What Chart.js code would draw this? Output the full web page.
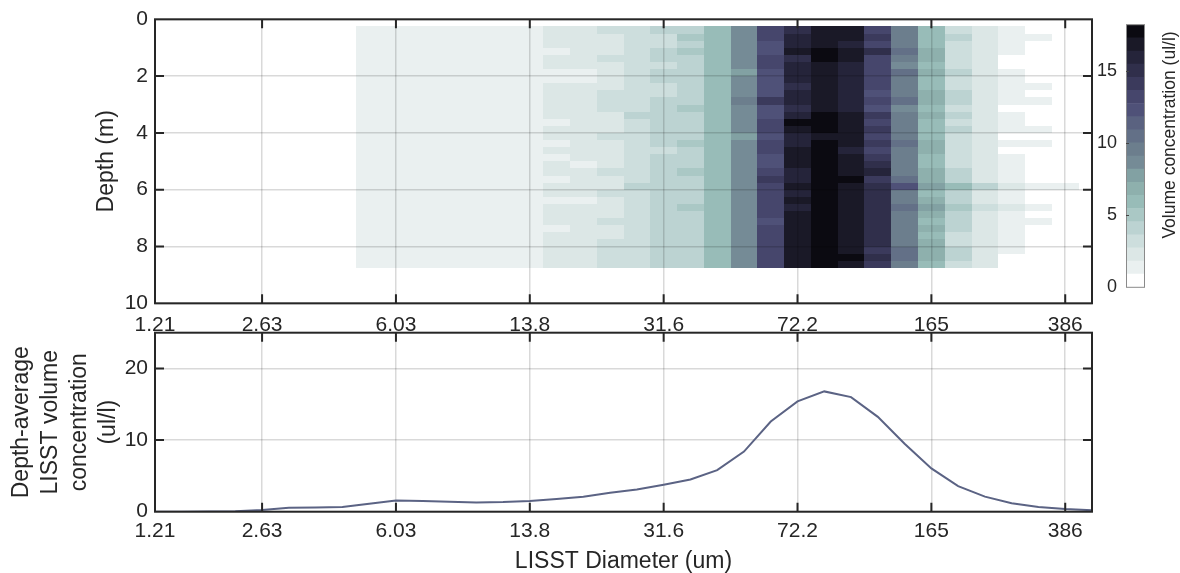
<!DOCTYPE html>
<html><head><meta charset="utf-8">
<script src="https://cdn.jsdelivr.net/npm/chart.js@4.4.1/dist/chart.umd.min.js"></script>
<style>
html,body{margin:0;padding:0;background:#fff;}
#wrap{position:relative;width:1180px;height:573px;overflow:hidden;background:#fff;}
canvas{position:absolute;}
</style></head><body>
<div id="wrap">
<canvas id="cTop" width="1100" height="345" style="left:0;top:0;width:1100px;height:345px"></canvas>
<canvas id="cBot" width="1100" height="253" style="left:0;top:320px;width:1100px;height:253px"></canvas>
<canvas id="cBar" width="88" height="310" style="left:1092px;top:0;width:88px;height:310px"></canvas>
</div>
<script>
// ---------------- data ----------------
const binIndex = [1,2,3,4,5,6,7,8,9,10,11,12,13,14,15,16,17,18,19,20,21,22,23,24,25,26,27,28,29,30,31,32,33,34,35,36];
const depthAvgConc = [0,0,0.02,0.05,0.24,0.56,0.6,0.65,1.1,1.58,1.49,1.4,1.3,1.35,1.49,1.77,2.1,2.65,3.1,3.77,4.5,5.8,8.4,12.6,15.4,16.8,16.0,13.25,9.5,6.05,3.58,2.1,1.17,0.65,0.37,0.2];
const xTickPos = [1,5,10,15,20,25,30,35];
const xTickLabels = ['1.21','2.63','6.03','13.8','31.6','72.2','165','386'];
const depthTicks = [0,2,4,6,8,10];
const avgTicks = [0,10,20];
const cbTicks = [0,5,10,15];
const cbEdges = [0,0.91,1.82,2.73,3.64,4.55,5.46,6.37,7.28,8.19,9.1,10.01,10.92,11.83,12.74,13.65,14.56,15.47,16.38,17.29,18.2];
const cbColors = ['#ffffff','#eaf0f0','#dce7e6','#cddedd','#bcd3d2','#aac8c5','#98bcb8','#8eb0ad','#82a1a3','#758b96','#6c7e8d','#637087','#5a6280','#4f5178','#46466c','#3b3a5c','#302f4b','#25243a','#1a1927','#0b0a11'];
const heatBins = [9,10,11,12,13,14,15,16,17,18,19,20,21,22,23,24,25,26,27,28,29,30,31,32,33,34,35];
const depthEdges = [0.25,0.5,0.75,1,1.25,1.5,1.75,2,2.25,2.5,2.75,3,3.25,3.5,3.75,4,4.25,4.5,4.75,5,5.25,5.5,5.75,6,6.25,6.5,6.75,7,7.25,7.5,7.75,8,8.25,8.5,8.75];
const heatRows = [
[1.3,1.3,1.3,1.3,1.3,1.3,1.3, 2.0,2.2,3.0,3.2,3.9,4.4,5.9,8.5,12.9,15.2,16.9,16.4,13.4, 9.4,6.0,3.5, 2.3,1.2,0.4,0.2],
[1.3,1.3,1.3,1.3,1.3,1.3,1.3, 2.1,2.3,2.6,3.1,3.5,4.9,5.9,8.6,13.4,16.0,17.1,16.8,14.2, 9.8,6.2,4.0, 2.4,1.3,1.2,0.2],
[1.3,1.3,1.3,1.3,1.3,1.3,1.3, 2.0,2.4,2.5,3.0,3.4,4.3,5.8,8.4,12.6,15.8,17.2,16.0,13.0, 9.6,5.8,3.4, 2.2,1.4,0.5,0.1],
[1.3,1.3,1.3,1.3,1.3,1.3,1.3, 1.6,2.2,2.5,3.1,4.0,4.9,5.8,8.3,12.2,16.4,17.9,16.5,14.6, 10.3,6.4,3.5, 2.1,1.2,0.4,0.1],
[1.3,1.3,1.3,1.3,1.3,1.3,1.3, 1.9,2.1,3.0,3.2,3.9,4.3,5.9,8.6,13.0,15.1,17.5,16.9,13.3, 9.5,6.6,3.3, 2.0,0.6,0.3,0.1],
[1.3,1.3,1.3,1.3,1.3,1.3,1.3, 1.9,2.0,2.6,3.3,3.4,4.4,5.8,8.7,13.5,15.7,16.9,16.1,12.8, 9.0,6.0,3.6, 1.9,0.6,0.2,0.1],
[1.3,1.3,1.3,1.3,1.3,1.3,1.3, 1.6,1.7,2.6,3.2,3.9,4.3,5.9,7.9,12.7,16.1,17.0,16.3,13.2, 10.5,7.0,3.9, 2.0,1.3,0.3,0.1],
[1.3,1.3,1.3,1.3,1.3,1.3,1.3, 1.6,1.7,2.5,3.1,3.9,4.4,5.8,8.3,12.6,15.5,17.0,15.8,13.6, 9.8,6.3,3.4, 2.6,1.3,0.2,0.1],
[1.3,1.3,1.3,1.3,1.3,1.3,1.3, 1.9,2.2,2.5,2.9,3.4,4.3,5.8,8.3,12.4,15.2,16.8,15.8,13.2, 9.4,6.1,3.2, 2.3,1.4,1.2,0.2],
[1.3,1.3,1.3,1.3,1.3,1.3,1.3, 2.0,2.2,3.0,3.1,3.4,4.4,5.9,8.6,12.7,15.5,17.0,16.0,12.6, 9.6,6.4,3.8, 2.1,1.3,0.4,0.1],
[1.3,1.3,1.3,1.3,1.3,1.3,1.3, 2.1,2.3,3.0,3.2,3.9,4.3,5.8,9.3,14.0,16.2,17.1,16.1,13.3, 10.4,6.9,3.9, 2.5,1.3,1.1,0.2],
[1.3,1.3,1.3,1.3,1.3,1.3,1.3, 1.9,2.2,2.9,3.1,3.9,4.8,5.9,8.3,12.5,15.0,16.9,16.0,12.6, 9.0,6.0,3.3, 2.0,0.6,0.3,0.1],
[1.3,1.3,1.3,1.3,1.3,1.3,1.3, 2.0,2.2,2.6,3.9,4.0,4.4,5.9,8.4,12.4,16.1,17.6,16.6,14.4, 9.7,6.5,3.7, 2.1,1.3,0.4,0.1],
[1.3,1.3,1.3,1.3,1.3,1.3,1.3, 1.6,2.2,2.5,3.2,4.1,4.3,5.9,8.7,13.2,17.3,18.0,16.7,13.1, 9.5,6.2,3.2, 2.2,1.4,0.4,0.1],
[1.3,1.3,1.3,1.3,1.3,1.3,1.3, 1.9,2.3,2.5,3.2,3.9,4.4,5.8,8.4,13.0,16.4,17.3,17.2,14.0, 9.6,6.3,3.9, 2.0,1.3,1.2,0.2],
[1.3,1.3,1.3,1.3,1.3,1.3,1.3, 2.0,2.1,3.0,3.1,3.9,4.4,5.9,8.1,12.4,15.6,17.0,16.6,13.2, 9.3,6.1,3.4, 1.9,0.6,0.3,0.1],
[1.3,1.3,1.3,1.3,1.3,1.3,1.3, 1.6,2.1,2.5,3.1,4.0,4.9,5.8,8.6,12.9,16.0,17.6,16.7,14.0, 10.4,6.4,3.5, 2.4,1.4,1.2,0.2],
[1.3,1.3,1.3,1.3,1.3,1.3,1.3, 1.9,2.2,2.6,3.1,3.4,4.4,5.8,8.4,13.4,16.5,17.6,16.1,13.5, 9.6,6.8,3.3, 2.4,0.7,0.3,0.1],
[1.3,1.3,1.3,1.3,1.3,1.3,1.3, 1.6,2.2,2.6,3.2,4.0,4.3,5.8,8.4,12.2,16.4,17.9,16.6,14.4, 9.3,6.0,3.4, 2.0,1.3,0.3,0.1],
[1.3,1.3,1.3,1.3,1.3,1.3,1.3, 1.9,1.7,2.6,3.2,4.0,4.4,5.9,8.5,12.7,16.8,17.8,17.1,15.0, 9.8,6.3,3.6, 2.2,1.3,0.3,0.1],
[1.3,1.3,1.3,1.3,1.3,1.3,1.3, 2.0,2.2,3.0,3.1,3.9,4.9,5.8,8.4,13.6,16.3,17.3,16.9,15.5, 9.6,6.6,3.9, 2.6,1.4,0.4,0.1],
[1.3,1.3,1.3,1.3,1.3,1.3,1.3, 1.6,2.2,2.5,3.2,4.0,4.4,5.9,8.6,13.8,16.0,17.7,17.3,14.2, 10.2,6.8,4.0, 2.7,1.3,0.3,0.1],
[1.3,1.3,1.3,1.3,1.3,1.3,1.3, 1.9,2.2,2.6,3.9,3.9,4.3,5.8,8.3,13.6,16.6,17.9,17.2,15.2, 12.2,8.0,5.6, 4.0,2.5,1.3,1.1],
[1.3,1.3,1.3,1.3,1.3,1.3,1.3, 1.9,2.2,3.0,3.1,3.9,4.3,5.9,8.4,13.4,16.3,18.0,17.0,14.8, 9.6,6.3,3.7, 2.6,1.2,0.4,0.1],
[1.3,1.3,1.3,1.3,1.3,1.3,1.3, 1.6,1.7,2.6,3.2,4.0,4.4,5.8,8.5,13.3,17.0,17.9,17.2,14.7, 9.8,6.6,3.9, 2.5,1.4,0.4,0.1],
[1.3,1.3,1.3,1.3,1.3,1.3,1.3, 1.9,2.2,2.6,3.1,3.9,4.9,5.9,8.5,13.5,16.3,17.7,17.0,15.0, 10.6,7.4,4.6, 2.9,1.9,1.2,0.2],
[1.3,1.3,1.3,1.3,1.3,1.3,1.3, 2.0,2.2,2.5,3.2,4.0,4.4,5.8,8.3,13.4,16.5,18.0,16.9,14.8, 9.7,6.6,4.0, 2.5,1.3,0.3,0.1],
[1.3,1.3,1.3,1.3,1.3,1.3,1.3, 1.9,2.2,3.0,3.2,3.9,4.4,5.9,8.4,12.6,16.9,17.8,17.2,15.0, 9.6,6.3,3.8, 2.4,1.4,1.2,0.1],
[1.3,1.3,1.3,1.3,1.3,1.3,1.3, 1.6,2.2,2.5,3.1,4.0,4.3,5.8,8.3,13.0,16.6,17.6,17.2,14.8, 9.9,6.7,3.7, 2.6,1.3,0.3,0.1],
[1.3,1.3,1.3,1.3,1.3,1.3,1.3, 2.0,2.2,2.5,3.2,3.9,4.4,5.9,8.6,13.4,16.4,17.4,16.9,14.6, 9.3,6.2,3.5, 2.5,1.4,0.4,0.1],
[1.3,1.3,1.3,1.3,1.3,1.3,1.3, 1.9,2.2,3.0,3.1,3.9,4.3,5.8,8.4,13.2,16.8,17.8,16.4,15.0, 9.5,6.5,3.6, 2.2,1.3,0.3,0.1],
[1.3,1.3,1.3,1.3,1.3,1.3,1.3, 1.9,2.1,3.0,3.2,4.0,4.4,5.9,8.5,13.6,16.5,17.9,16.6,14.3, 10.3,7.0,3.9, 2.5,1.2,0.3,0.1],
[1.3,1.3,1.3,1.3,1.3,1.3,1.3, 2.0,2.2,2.9,3.1,3.9,4.4,5.8,8.3,13.3,16.7,17.7,17.6,15.2, 10.5,7.0,4.2, 2.0,0.7,0.2,0.1],
[1.3,1.3,1.3,1.3,1.3,1.3,1.3, 1.9,2.2,3.0,3.2,3.9,4.4,5.8,8.4,13.3,16.8,17.8,16.6,14.3, 9.4,6.2,3.6, 2.0,0.6,0.2,0.1]
];

// ---------------- style ----------------
const FONT = "'Liberation Sans', Arial, Helvetica, sans-serif";
const INK = '#262626';
const GRID = 'rgba(0,0,0,0.15)';
Chart.defaults.font.family = FONT;
Chart.defaults.color = INK;
Chart.defaults.animation = false;

function levelColor(v){
  for (let k = 0; k < cbColors.length; k++) {
    if (v < cbEdges[k+1]) return cbColors[k];
  }
  return cbColors[cbColors.length-1];
}

function framePlugin(xt, yt){
  return { id:'frame', afterDraw(chart){
    const {ctx, chartArea:a, scales:{x, y}} = chart;
    ctx.save();
    ctx.strokeStyle = INK; ctx.lineWidth = 2;
    ctx.beginPath();
    const L = 9;
    xt.forEach(v => { if (v <= x.min || v >= x.max) return;
      const px = x.getPixelForValue(v);
      ctx.moveTo(px, a.bottom); ctx.lineTo(px, a.bottom - L);
      ctx.moveTo(px, a.top); ctx.lineTo(px, a.top + L); });
    yt.forEach(v => { if (v <= y.min || v >= y.max) return;
      const py = y.getPixelForValue(v);
      ctx.moveTo(a.left, py); ctx.lineTo(a.left + L, py);
      ctx.moveTo(a.right, py); ctx.lineTo(a.right - L, py); });
    ctx.stroke();
    ctx.strokeRect(a.left, a.top, a.right - a.left, a.bottom - a.top);
    ctx.restore();
  }};
}

const heatPlugin = { id:'heat', beforeDatasetsDraw(chart){
  const {ctx, chartArea:a, scales:{x, y}} = chart;
  ctx.save();
  ctx.beginPath(); ctx.rect(a.left, a.top, a.right - a.left, a.bottom - a.top); ctx.clip();
  heatRows.forEach((row, r) => {
    const y0 = Math.round(y.getPixelForValue(depthEdges[r]));
    const y1 = Math.round(y.getPixelForValue(depthEdges[r+1]));
    row.forEach((v, c) => {
      const b = heatBins[c];
      const x0 = Math.round(x.getPixelForValue(b - 0.5));
      const x1 = Math.round(x.getPixelForValue(b + 0.5));
      ctx.fillStyle = levelColor(v);
      ctx.fillRect(x0, y0, x1 - x0, y1 - y0);
    });
  });
  ctx.restore();
}};

function xScale(height, pad, gridZ){
  return {
    type:'linear', min:1, max:36, position:'bottom',
    afterBuildTicks: s => { s.ticks = xTickPos.map(v => ({value:v})); },
    afterFit: s => { s.height = height; s.paddingLeft = 0; s.paddingRight = 0; },
    ticks:{ autoSkip:false, maxRotation:0, padding:pad, font:{size:21}, color:INK,
      callback: v => xTickLabels[xTickPos.indexOf(v)] },
    grid:{ color:GRID, lineWidth:1.5, drawTicks:false, z:gridZ },
    border:{ display:false }
  };
}
function yFit(w){ return s => { s.width = w; s.paddingTop = 0; s.paddingBottom = 0; }; }

// ---------------- top: heat map ----------------
new Chart(document.getElementById('cTop'), {
  type:'line',
  data:{ datasets:[] },
  options:{
    responsive:false,
    layout:{ padding:{ left:0, right:8, top:19.3, bottom:0 } },
    plugins:{ legend:{display:false}, tooltip:{enabled:false} },
    scales:{
      x: xScale(41.7, 9, 1),
      y:{
        type:'linear', min:0, max:10, reverse:true, position:'left',
        afterBuildTicks: s => { s.ticks = depthTicks.map(v => ({value:v})); },
        afterFit: yFit(155),
        ticks:{ padding:7, font:{size:21}, color:INK },
        grid:{ color:GRID, lineWidth:1.5, drawTicks:false, z:1 },
        border:{ display:false },
        title:{ display:true, text:'Depth (m)', font:{size:23}, color:INK, padding:{top:93, bottom:0} }
      }
    }
  },
  plugins:[heatPlugin, framePlugin(xTickPos, depthTicks)]
});

// ---------------- bottom: depth average ----------------
const xb = xScale(61.3, 7.4, -1);
xb.title = { display:true, text:'LISST Diameter (um)', font:{size:23, lineHeight:1}, color:INK, padding:{top:0, bottom:0} };
new Chart(document.getElementById('cBot'), {
  type:'line',
  data:{ datasets:[{
    data: binIndex.map((b, i) => ({x:b, y:depthAvgConc[i]})),
    borderColor:'#5b6384', borderWidth:2, pointRadius:0, tension:0, fill:false
  }]},
  options:{
    responsive:false,
    layout:{ padding:{ left:0, right:8, top:12.7, bottom:0 } },
    plugins:{ legend:{display:false}, tooltip:{enabled:false} },
    scales:{
      x: xb,
      y:{
        type:'linear', min:0, max:25, position:'left',
        afterBuildTicks: s => { s.ticks = avgTicks.map(v => ({value:v})); },
        afterFit: yFit(155),
        ticks:{ padding:7, font:{size:21}, color:INK },
        grid:{ color:GRID, lineWidth:1.5, drawTicks:false },
        border:{ display:false },
        title:{ display:true, text:['Depth-average','LISST volume','concentration','(ul/l)'],
          font:{size:23, lineHeight:1.26}, color:INK, padding:{top:7, bottom:0} }
      }
    }
  },
  plugins:[framePlugin(xTickPos, avgTicks)]
});

// ---------------- colour bar ----------------
const cbTitlePlugin = { id:'cbtitle', afterDraw(chart){
  const {ctx, chartArea:a, scales:{y}} = chart;
  ctx.save();
  ctx.strokeStyle = '#8a8a8a'; ctx.lineWidth = 1;
  ctx.strokeRect(a.left + 0.5, a.top, a.right - a.left - 1, a.bottom - a.top);
  ctx.strokeStyle = '#444'; ctx.beginPath();
  cbTicks.forEach(v => { if (v <= y.min) return; const py = Math.round(y.getPixelForValue(v)) + 0.5;
    ctx.moveTo(a.left, py); ctx.lineTo(a.left + 3, py); });
  ctx.stroke();
  ctx.translate(78, 135);
  ctx.rotate(-Math.PI / 2);
  ctx.fillStyle = INK; ctx.font = '17.5px ' + FONT;
  ctx.textAlign = 'center'; ctx.textBaseline = 'middle';
  ctx.fillText('Volume concentration (ul/l)', 0, 0);
  ctx.restore();
}};

new Chart(document.getElementById('cBar'), {
  type:'bar',
  data:{ labels:['cb'], datasets: cbColors.map((c, k) => ({
    data:[[cbEdges[k], cbEdges[k+1]]], backgroundColor:c, borderWidth:0,
    barPercentage:1, categoryPercentage:1, grouped:false
  }))},
  options:{
    responsive:false,
    layout:{ padding:{ left:0, right:35, top:24.7, bottom:22.7 } },
    plugins:{ legend:{display:false}, tooltip:{enabled:false} },
    scales:{
      x:{ display:false },
      y:{
        type:'linear', min:0, max:18.2, position:'left',
        afterBuildTicks: s => { s.ticks = cbTicks.map(v => ({value:v})); },
        afterFit: yFit(34),
        ticks:{ padding:9, font:{size:18}, color:INK },
        grid:{ display:false, drawTicks:false },
        border:{ display:false }
      }
    }
  },
  plugins:[cbTitlePlugin]
});
</script>
</body></html>
